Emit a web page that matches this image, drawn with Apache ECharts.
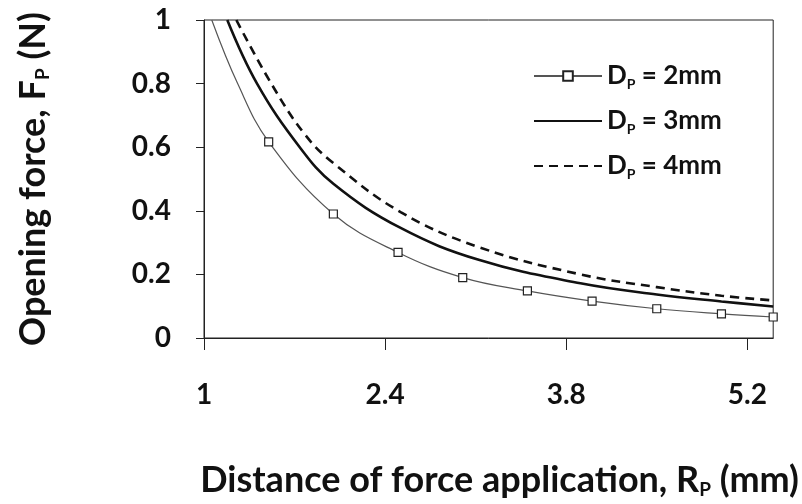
<!DOCTYPE html>
<html>
<head>
<meta charset="utf-8">
<script src="https://cdn.jsdelivr.net/npm/echarts@6/dist/echarts.min.js"></script>
<style>html,body{margin:0;padding:0;background:#fff}#c{width:802px;height:504px}</style>
</head>
<body>
<div id="c"></div>
<script>
// Distance of force application R_P (mm) and opening force F_P (N)
var r2 = [1.06, 1.26, 1.5, 2.0, 2.5, 3.0, 3.5, 4.0, 4.5, 5.0, 5.4];
var f2 = [1.0, 0.8, 0.617, 0.39, 0.269, 0.19, 0.148, 0.116, 0.092, 0.076, 0.066];
var markerR2 = [1.5, 2.0, 2.5, 3.0, 3.5, 4.0, 4.5, 5.0, 5.4];

var r3 = [1.18, 1.41, 1.74, 2.0, 2.52, 3.13, 3.91, 4.5, 5.0, 5.4];
var f3 = [1.0, 0.8, 0.6, 0.485, 0.346, 0.245, 0.172, 0.137, 0.115, 0.099];

var r4 = [1.25, 1.52, 1.78, 2.0, 2.52, 3.13, 3.91, 4.5, 5.0, 5.4];
var f4 = [1.0, 0.8, 0.64, 0.55, 0.396, 0.285, 0.2, 0.16, 0.133, 0.118];

var seriesLabels = ['2mm', '3mm', '4mm'];
var xTicks = [1, 2.4, 3.8, 5.2];

var FONT = 'Lato';
function pts(r, f) { return r.map(function (x, i) { return [x, f[i]]; }); }

var d2 = r2.map(function (x, i) {
  return markerR2.indexOf(x) >= 0 ? { value: [x, f2[i]] } : { value: [x, f2[i]], symbol: 'none' };
});
var names = seriesLabels.map(function (s) { return 'D_P = ' + s; });

function titleRich(sz, sub, pad) {
  return {
    a: { fontFamily: FONT, fontWeight: 'bold', fontSize: sz, color: '#111' },
    s: { fontFamily: FONT, fontWeight: 'bold', fontSize: sub, color: '#111', verticalAlign: 'bottom', padding: [pad, 0, 0, 0] }
  };
}

var chart = echarts.init(document.getElementById('c'), null, { renderer: 'canvas' });
chart.setOption({
  animation: false,
  backgroundColor: '#fff',
  grid: { left: 204, top: 20, right: 28, bottom: 164, show: true, borderColor: '#222', borderWidth: 1, backgroundColor: 'transparent' },
  legend: {
    orient: 'vertical', left: 528, top: 58, itemWidth: 68, itemHeight: 12, itemGap: 17,
    data: [
      { name: names[0] },
      { name: names[1], itemStyle: { opacity: 0 } },
      { name: names[2], itemStyle: { opacity: 0 } }
    ],
    formatter: function (n) { return '{a|D}{s|P}{a| = ' + n.split('= ')[1] + '}'; },
    textStyle: { rich: titleRich(26, 14, 16) }
  },
  xAxis: {
    type: 'value', min: 1, max: 5.4,
    name: '{a|Distance of force application, R}{s|P}{a| (mm)}',
    nameLocation: 'middle', nameGap: 124,
    nameTextStyle: { rich: titleRich(36, 19, 18), padding: [0, 0, 0, 22] },
    axisLine: { show: true, onZero: false, lineStyle: { color: '#222', width: 1 } },
    axisTick: { show: true, length: 12, customValues: xTicks, lineStyle: { color: '#222' } },
    axisLabel: { customValues: xTicks, margin: 43, fontFamily: FONT, fontWeight: 'bold', fontSize: 28, color: '#111' },
    splitLine: { show: false }
  },
  yAxis: {
    type: 'value', min: 0, max: 1, interval: 0.2,
    name: '{a|Opening force, F}{s|P}{a| (N)}',
    nameLocation: 'middle', nameGap: 152,
    nameTextStyle: { rich: titleRich(36, 19, 18) },
    axisLine: { show: true, lineStyle: { color: '#222', width: 1 } },
    axisTick: { show: true, length: 8, lineStyle: { color: '#222' } },
    axisLabel: { margin: 33, fontFamily: FONT, fontWeight: 'bold', fontSize: 28, color: '#111' },
    splitLine: { show: false }
  },
  series: [
    {
      name: names[0], type: 'line', data: d2, smooth: 0.4,
      symbol: 'rect', symbolSize: 8, showSymbol: true, clip: true,
      lineStyle: { color: '#555', width: 1.2 },
      itemStyle: { color: '#fff', borderColor: '#222', borderWidth: 1.2 }
    },
    {
      name: names[1], type: 'line', data: pts(r3, f3), smooth: 0.4,
      symbol: 'none', clip: true,
      lineStyle: { color: '#111', width: 2.6 }, itemStyle: { color: '#111' }
    },
    {
      name: names[2], type: 'line', data: pts(r4, f4), smooth: 0.4,
      symbol: 'none', clip: true,
      lineStyle: { color: '#111', width: 2.6, type: [9, 6] }, itemStyle: { color: '#111' }
    }
  ]
});
</script>
</body>
</html>
